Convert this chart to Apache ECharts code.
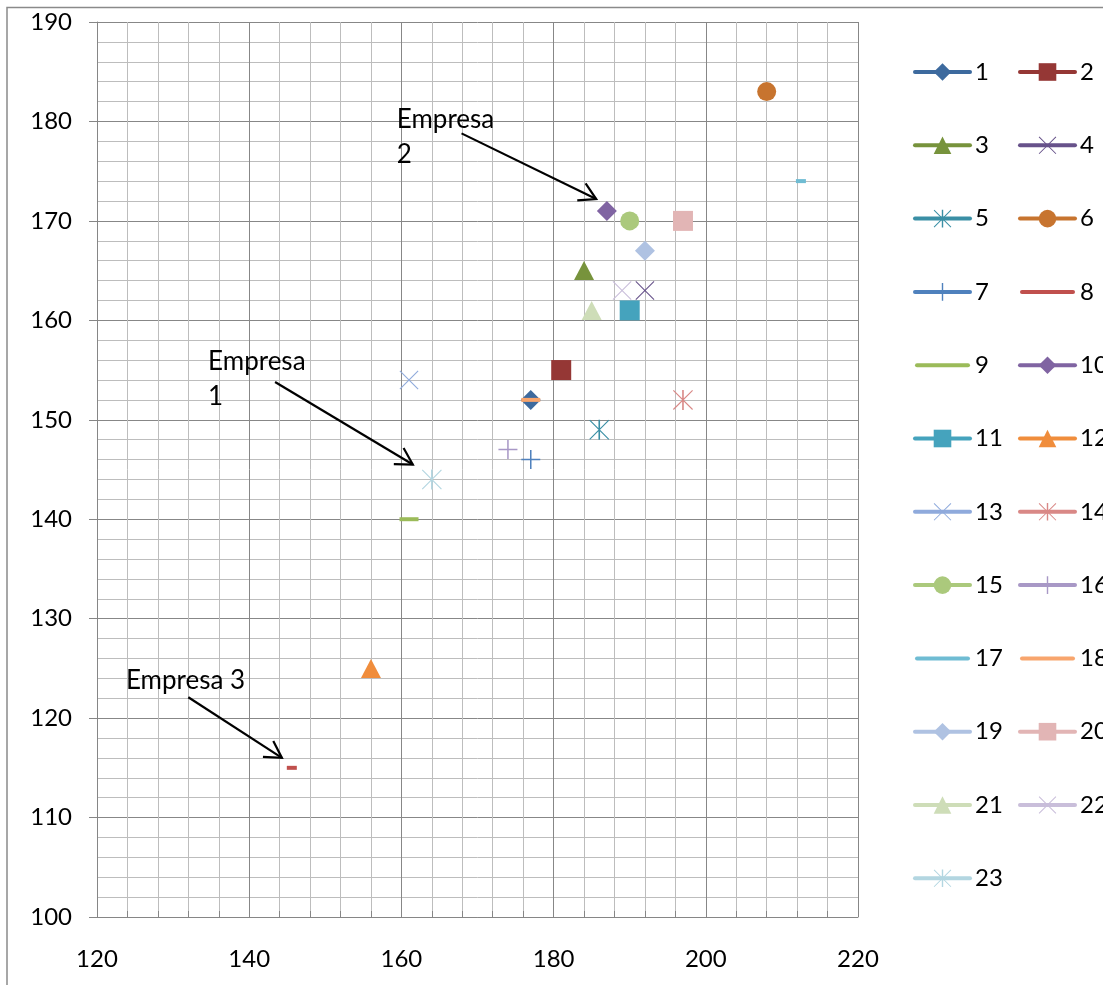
<!DOCTYPE html>
<html><head><meta charset="utf-8">
<script src="https://cdn.jsdelivr.net/npm/echarts@6/dist/echarts.min.js"></script>
<style>html,body{margin:0;padding:0;background:#fff;}#c{width:1103px;height:985px;}</style>
</head><body><div id="c"></div>
<script>
// ---- data ----
const seriesNames = ['1','2','3','4','5','6','7','8','9','10','11','12','13','14','15','16','17','18','19','20','21','22','23'];
const xValues = [177,181,184,192,186,208,177,145.6,161,187,190,156,161,197,190,174,212.5,177,192,197,185,189,164];
const yValues = [152,155,165,163,149,183,146,115,140,171,161,125,154,152,170,147,174,152,167,170,161,163,144];
const seriesColors = ['#3D6A9E','#953735','#77933C','#67528A','#3A8FA5','#C7742F','#4F81BD','#C0504D','#9BBB59','#8064A2','#45A3BD','#F08D3C','#8FAADC','#D98886','#ABC97C','#A898C6','#6FBCD3','#F8A56D','#AFC2E2','#E2B5B5','#CEDDB8','#C9BEDA','#B3D6E1'];
const markerKinds = ['diamond','square','triangle','x','star','circle','plus','shortDash','longDash','diamond','square','triangle','x','star','circle','plus','shortDash','longDash','diamond','square','triangle','x','star'];
const xMin = 120, xMax = 220, xInterval = 20;
const yMin = 100, yMax = 190, yInterval = 10;
const annotations = [
  {text: 'Empresa\n2', pos: [159.4, 181.9], from: [167.9, 178.8], to: [185.6, 172.2]},
  {text: 'Empresa\n1', pos: [134.6, 157.6], from: [143.4, 153.8], to: [161.5, 145.5]},
  {text: 'Empresa 3', pos: [123.8, 125.5], from: [132.0, 122.1], to: [144.3, 116.0]}
];

// ---- marker shapes ----
const X_PATH = 'path://M0,4 L4,0 L100,96 L96,100 Z M96,0 L100,4 L4,100 L0,96 Z';
const PLUS_PATH = 'path://M46,0 L54,0 L54,100 L46,100 Z M0,46 L100,46 L100,54 L0,54 Z';
const STAR_PATH = 'path://M0,4 L4,0 L100,96 L96,100 Z M96,0 L100,4 L4,100 L0,96 Z M46,0 L54,0 L54,100 L46,100 Z';
const BAR_ICON = 'path://M2,0 L53,0 A2,2 0 0 1 53,4 L2,4 A2,2 0 0 1 2,0 Z';
const markerDefs = {
  diamond: {symbol: 'diamond', size: [20, 20]},
  square: {symbol: 'rect', size: [20, 20]},
  triangle: {symbol: 'triangle', size: [20, 19]},
  x: {symbol: X_PATH, size: [19, 19]},
  star: {symbol: STAR_PATH, size: [20, 20]},
  circle: {symbol: 'circle', size: [19, 19]},
  plus: {symbol: PLUS_PATH, size: [19, 19]},
  shortDash: {symbol: 'rect', size: [10, 4], bar: true},
  longDash: {symbol: 'rect', size: [19, 4], bar: true}
};

const FONT = 'Lato, "Open Sans", sans-serif';

const series = seriesNames.map((n, i) => {
  const m = markerDefs[markerKinds[i]];
  return {
    name: n,
    type: 'line',
    data: [[xValues[i], yValues[i]]],
    symbol: m.symbol,
    symbolSize: m.size,
    showSymbol: true,
    color: seriesColors[i],
    itemStyle: {color: seriesColors[i]},
    lineStyle: {color: seriesColors[i], width: 4, cap: 'round'},
    emphasis: {disabled: true},
    z: 3
  };
});

function legendData(parity) {
  return seriesNames.filter((n, i) => i % 2 === parity).map(n => {
    const i = seriesNames.indexOf(n);
    const m = markerDefs[markerKinds[i]];
    return m.bar ? {name: n, icon: BAR_ICON} : {name: n};
  });
}
function legendBase(left, parity) {
  return {
    data: legendData(parity),
    orient: 'vertical',
    left: left,
    top: 60,
    padding: 0,
    itemWidth: 55,
    itemHeight: 22,
    itemGap: 49.3,
    selectedMode: false,
    textStyle: {fontSize: 24, fontFamily: FONT, color: '#000'},
    lineStyle: {width: 4, cap: 'round'}
  };
}

const chart = echarts.init(document.getElementById('c'), null, {renderer: 'canvas'});
chart.setOption({
  animation: false,
  backgroundColor: '#fff',
  grid: {left: 97, right: 245, top: 22, bottom: 68, containLabel: false, outerBoundsMode: 'none'},
  legend: [legendBase(913, 0), legendBase(1018, 1)],
  xAxis: {
    type: 'value', min: xMin, max: xMax, interval: xInterval,
    axisLine: {show: true, lineStyle: {color: '#868686', width: 1}},
    axisTick: {show: true, inside: true, length: 6, lineStyle: {color: '#868686'}},
    minorTick: {show: true, splitNumber: 5, length: 6, lineStyle: {color: '#868686'}},
    splitLine: {show: true, lineStyle: {color: '#878787', width: 1}},
    minorSplitLine: {show: true, lineStyle: {color: '#BDBDBD', width: 1}},
    axisLabel: {fontSize: 24, fontFamily: FONT, color: '#000', margin: 30}
  },
  yAxis: {
    type: 'value', min: yMin, max: yMax, interval: yInterval,
    axisLine: {show: true, lineStyle: {color: '#868686', width: 1}},
    axisTick: {show: true, inside: false, length: 8, lineStyle: {color: '#868686'}},
    minorTick: {show: false, splitNumber: 5},
    splitLine: {show: true, lineStyle: {color: '#878787', width: 1}},
    minorSplitLine: {show: true, lineStyle: {color: '#BDBDBD', width: 1}},
    axisLabel: {fontSize: 24, fontFamily: FONT, color: '#000', margin: 25}
  },
  series: series
});

// ---- annotations anchored in data space ----
const graphics = [{
  type: 'rect', silent: true, z: 0,
  shape: {x: 7, y: 7.5, width: 1300, height: 1300},
  style: {fill: 'none', stroke: '#8A8A8A', lineWidth: 1.5}
}];
annotations.forEach(a => {
  const p = chart.convertToPixel({gridIndex: 0}, a.pos);
  const s = chart.convertToPixel({gridIndex: 0}, a.from);
  const t = chart.convertToPixel({gridIndex: 0}, a.to);
  graphics.push({
    type: 'text', silent: true, z: 10, x: p[0], y: p[1],
    style: {text: a.text, font: '26px ' + FONT, fill: '#000', lineHeight: 35, align: 'left', verticalAlign: 'top'}
  });
  graphics.push({
    type: 'line', silent: true, z: 10,
    shape: {x1: s[0], y1: s[1], x2: t[0], y2: t[1]},
    style: {stroke: '#000', lineWidth: 2.2}
  });
  const ang = Math.atan2(s[1] - t[1], s[0] - t[0]);
  const L = 19, sp = Math.PI / 6;
  graphics.push({
    type: 'polyline', silent: true, z: 10,
    shape: {points: [
      [t[0] + L * Math.cos(ang + sp), t[1] + L * Math.sin(ang + sp)],
      [t[0], t[1]],
      [t[0] + L * Math.cos(ang - sp), t[1] + L * Math.sin(ang - sp)]
    ]},
    style: {stroke: '#000', lineWidth: 2.2, fill: null}
  });
});
chart.setOption({graphic: graphics});
</script>
</body></html>
